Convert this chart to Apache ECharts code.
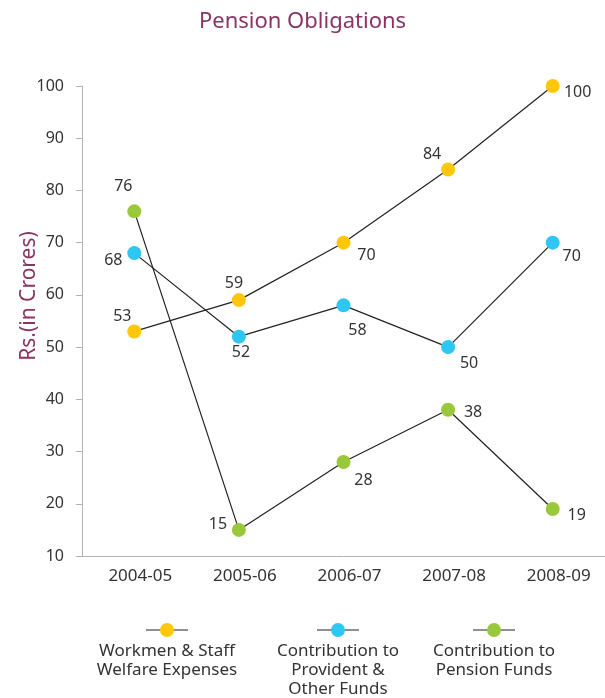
<!DOCTYPE html>
<html>
<head>
<meta charset="utf-8">
<style>
  html, body { margin: 0; padding: 0; background: #fff; }
  #chart { width: 605px; height: 698px; }
</style>
<script src="https://cdn.jsdelivr.net/npm/echarts@6/dist/echarts.min.js"></script>
</head>
<body>
<div id="chart"></div>
<script>
// Pension obligations, Rs. in crores
const years = ['2004-05', '2005-06', '2006-07', '2007-08', '2008-09'];
const welfare = [53, 59, 70, 84, 100];
const provident = [68, 52, 58, 50, 70];
const pension = [76, 15, 28, 38, 19];
const seriesNames = ['Workmen & Staff\nWelfare Expenses', 'Contribution to\nProvident &\nOther Funds', 'Contribution to\nPension Funds'];
const yTicks = { min: 10, max: 100, interval: 10 };

// value-label offsets from each point's centre, in pixels
const welfareLabelOffset = [[-12, -15], [-5, -17], [23, 13], [-16, -15], [25, 6]];
const providentLabelOffset = [[-21, 7], [2, 16], [14, 25], [21, 16], [19, 14]];
const pensionLabelOffset = [[-11, -25], [-21, -5], [20, 18], [25, 3], [24, 6]];

const colors = ['#FFC70A', '#2EC6F2', '#99C93A'];
const FONT = '"Noto Sans", "Open Sans", sans-serif';
const maroon = '#8A3563';

function buildData(values, offsets) {
  return values.map((v, i) => ({
    value: v,
    label: { position: 'inside', offset: offsets[i] }
  }));
}

function lineSeries(name, values, offsets, color) {
  return {
    name: name,
    type: 'line',
    data: buildData(values, offsets),
    symbol: 'circle',
    symbolSize: 14,
    itemStyle: { color: color, borderWidth: 0 },
    lineStyle: { color: '#222', width: 1.2 },
    label: {
      show: true,
      color: '#333',
      fontSize: 16,
      fontFamily: FONT,
      align: 'center',
      verticalAlign: 'middle'
    },
    emphasis: { disabled: true },
    z: 3
  };
}

const chart = echarts.init(document.getElementById('chart'), null, { renderer: 'canvas' });

// legend icons: short line with a dot, text centred beneath
const legendCentres = [167, 338, 494];
const legendGraphics = [];
legendCentres.forEach((cx, i) => {
  legendGraphics.push({
    type: 'line',
    shape: { x1: cx - 21, y1: 630, x2: cx + 21, y2: 630 },
    style: { stroke: '#222', lineWidth: 1 }
  });
  legendGraphics.push({
    type: 'circle',
    shape: { cx: cx, cy: 630, r: 7 },
    style: { fill: colors[i] }
  });
  legendGraphics.push({
    type: 'text',
    x: cx,
    y: 642,
    style: {
      text: seriesNames[i],
      fill: '#333',
      font: '17px ' + FONT,
      align: 'center',
      verticalAlign: 'top',
      lineHeight: 19
    }
  });
});

chart.setOption({
  animation: false,
  backgroundColor: '#fff',
  title: {
    text: 'Pension Obligations',
    left: 'center',
    top: 6,
    textStyle: { color: maroon, fontSize: 22, fontWeight: 'normal', fontFamily: FONT }
  },
  grid: { left: 82, right: 0, top: 86, bottom: 142, containLabel: false, outerBoundsMode: 'none' },
  xAxis: {
    type: 'category',
    data: years,
    boundaryGap: true,
    axisLine: { lineStyle: { color: '#b3b3b3', width: 1 } },
    axisTick: { show: false },
    axisLabel: { color: '#333', fontSize: 17, fontFamily: FONT, margin: 12, padding: [0, 0, 0, 12] }
  },
  yAxis: {
    type: 'value',
    min: yTicks.min,
    max: yTicks.max,
    interval: yTicks.interval,
    name: 'Rs.(in Crores)',
    nameLocation: 'middle',
    nameGap: 42,
    nameMoveOverlap: false,
    nameTextStyle: { color: maroon, fontSize: 21, fontFamily: FONT, padding: [0, 0, 0, 50] },
    axisLine: { show: true, lineStyle: { color: '#b3b3b3', width: 1 } },
    axisTick: { show: true, inside: false, length: 6, lineStyle: { color: '#b3b3b3' } },
    splitLine: { show: false },
    axisLabel: { color: '#333', fontSize: 16, fontFamily: FONT, margin: 18 }
  },
  graphic: legendGraphics,
  series: [
    lineSeries(seriesNames[0], welfare, welfareLabelOffset, colors[0]),
    lineSeries(seriesNames[1], provident, providentLabelOffset, colors[1]),
    lineSeries(seriesNames[2], pension, pensionLabelOffset, colors[2])
  ]
});
</script>
</body>
</html>
